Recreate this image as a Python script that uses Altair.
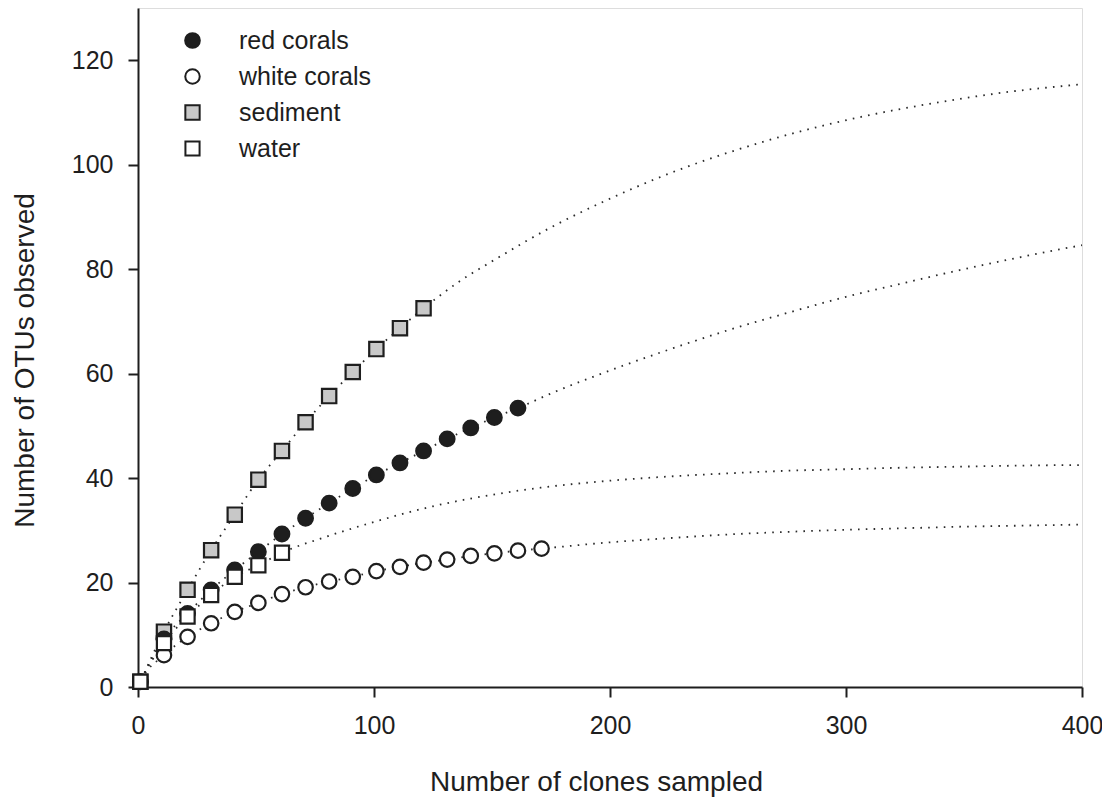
import altair as alt
import pandas as pd

# ---- data ----
series_names = ["sediment", "red corals", "white corals", "water"]
legend_order = ["red corals", "white corals", "sediment", "water"]

red_x = [1, 11, 21, 31, 41, 51, 61, 71, 81, 91, 101, 111, 121, 131, 141, 151, 161]
red_y = [1, 9.2, 14.1, 18.6, 22.4, 25.9, 29.3, 32.3, 35.2, 38.0, 40.6, 42.9, 45.2, 47.5, 49.6, 51.6, 53.4]

white_x = [1, 11, 21, 31, 41, 51, 61, 71, 81, 91, 101, 111, 121, 131, 141, 151, 161, 171]
white_y = [1, 6.1, 9.6, 12.2, 14.4, 16.1, 17.8, 19.1, 20.2, 21.1, 22.2, 23.0, 23.8, 24.4, 25.1, 25.6, 26.1, 26.5]

sediment_x = [1, 11, 21, 31, 41, 51, 61, 71, 81, 91, 101, 111, 121]
sediment_y = [1, 10.6, 18.6, 26.2, 33.0, 39.7, 45.2, 50.7, 55.7, 60.3, 64.7, 68.7, 72.5]

water_x = [1, 11, 21, 31, 41, 51, 61]
water_y = [1, 8.4, 13.5, 17.6, 21.1, 23.3, 25.7]

# extrapolated (dotted) curve beyond the sampled points
red_ext_x = [175, 200, 225, 250, 275, 300, 325, 350, 375, 400]
red_ext_y = [56.2, 60.6, 64.6, 68.3, 71.6, 74.7, 77.4, 80.0, 82.4, 84.6]

white_ext_x = [200, 225, 250, 275, 300, 325, 350, 375, 400]
white_ext_y = [27.7, 28.5, 29.2, 29.7, 30.1, 30.4, 30.7, 30.9, 31.1]

sediment_ext_x = [137, 150, 175, 200, 225, 250, 280, 310, 340, 370, 400]
sediment_ext_y = [77.9, 81.5, 88.0, 93.5, 98.3, 102.3, 106.3, 109.5, 112.0, 114.0, 115.4]

water_ext_x = [80, 100, 125, 150, 175, 200, 225, 250, 275, 300, 325, 350, 375, 400]
water_ext_y = [28.8, 31.6, 34.6, 36.8, 38.4, 39.5, 40.3, 40.9, 41.4, 41.7, 42.0, 42.2, 42.4, 42.5]

x_ticks = [0, 100, 200, 300, 400]
y_ticks = [0, 20, 40, 60, 80, 100, 120]

# ---- build tables ----
pts_src = {
    "sediment": (sediment_x, sediment_y),
    "red corals": (red_x, red_y),
    "white corals": (white_x, white_y),
    "water": (water_x, water_y),
}
ext_src = {
    "sediment": (sediment_ext_x, sediment_ext_y),
    "red corals": (red_ext_x, red_ext_y),
    "white corals": (white_ext_x, white_ext_y),
    "water": (water_ext_x, water_ext_y),
}

rows = []
order = 0
for s in series_names:
    xs, ys = pts_src[s]
    for xv, yv in zip(xs, ys):
        rows.append({"series": s, "x": xv, "y": yv, "ord": order})
        order += 1
pts = pd.DataFrame(rows)

crow = []
for s in series_names:
    xs, ys = pts_src[s]
    ex, ey = ext_src[s]
    allx = [0] + list(xs) + list(ex)
    ally = [0] + list(ys) + list(ey)
    for xv, yv in zip(allx, ally):
        crow.append({"series": s, "x": xv, "y": yv})
curves = pd.DataFrame(crow)

FONT = "Liberation Sans"
INK = "#1e1e1e"

xscale = alt.Scale(domain=[0, 400], nice=False, zero=False)
yscale = alt.Scale(domain=[0, 130], nice=False, zero=False)

xaxis = alt.Axis(values=x_ticks, title="Number of clones sampled", grid=False,
                 tickSize=10, tickWidth=2, domainWidth=2, domainColor=INK, tickColor=INK,
                 labelFont=FONT, labelFontSize=25, labelColor=INK, labelPadding=16,
                 labelFlush=False,
                 titleFont=FONT, titleFontSize=28, titleFontWeight="normal", titleColor=INK,
                 titleX=458, titleY=95, titleAlign="center", titleBaseline="middle")
yaxis = alt.Axis(values=y_ticks, title="Number of OTUs observed", grid=False,
                 tickSize=10, tickWidth=2, domainWidth=2, domainColor=INK, tickColor=INK,
                 labelFont=FONT, labelFontSize=25, labelColor=INK, labelPadding=15,
                 labelFlush=False,
                 titleFont=FONT, titleFontSize=28, titleFontWeight="normal", titleColor=INK,
                 titleX=-113, titleY=352, titleAngle=-90, titleAlign="center",
                 titleBaseline="middle")

lines = alt.Chart(curves).mark_line(
    strokeDash=[1.6, 6.2], strokeWidth=1.8, color="#2a2a2a", interpolate="monotone"
).encode(
    x=alt.X("x:Q", scale=xscale, axis=xaxis),
    y=alt.Y("y:Q", scale=yscale, axis=yaxis),
    detail="series:N",
)

leg = alt.Legend(title=None, orient="none", legendX=42, legendY=20,
                 labelFont=FONT, labelFontSize=25, labelColor=INK,
                 symbolStrokeWidth=2, labelOffset=34, rowPadding=10, padding=0)

points = alt.Chart(pts).mark_point(
    filled=False, strokeWidth=2.2, opacity=1
).encode(
    x=alt.X("x:Q", scale=xscale),
    y=alt.Y("y:Q", scale=yscale),
    shape=alt.Shape("series:N",
                    scale=alt.Scale(domain=legend_order,
                                    range=["circle", "circle", "square", "square"]),
                    legend=leg),
    fill=alt.Fill("series:N",
                  scale=alt.Scale(domain=legend_order,
                                  range=[INK, "#ffffff", "#c8c8c8", "#ffffff"]),
                  legend=leg),
    stroke=alt.Stroke("series:N",
                      scale=alt.Scale(domain=legend_order, range=[INK, INK, INK, INK]),
                      legend=leg),
    size=alt.Size("series:N",
                  scale=alt.Scale(domain=legend_order, range=[215, 200, 180, 180]),
                  legend=leg),
    order=alt.Order("ord:Q"),
)

chart = alt.layer(lines, points).properties(
    width=944, height=679,
    autosize=alt.AutoSizeParams(type="none"),
    padding={"left": 130, "top": 0, "right": 20, "bottom": 114},
).configure_view(
    stroke=INK, strokeWidth=2
).configure(background="white")

chart.save("out.html", embed_options={"renderer": "svg", "actions": False})
